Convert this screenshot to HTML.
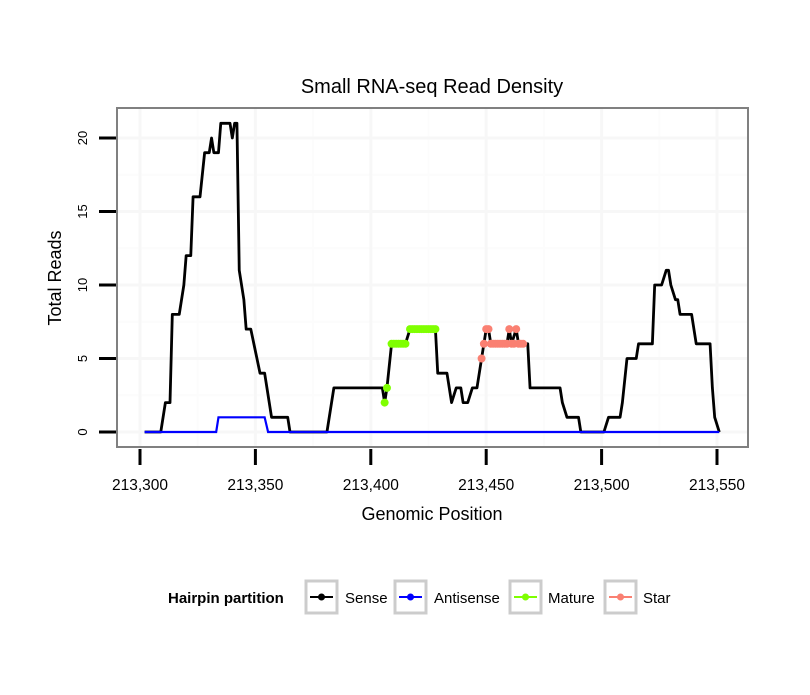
<!DOCTYPE html>
<html><head><meta charset="utf-8"><style>
body{margin:0;background:#fff;}
text{font-family:"Liberation Sans",sans-serif;}
</style></head><body>
<svg id="chart" width="810" height="690" xmlns="http://www.w3.org/2000/svg">
<rect width="810" height="690" fill="#fff"/>
<text x="432" y="93" font-size="20" text-anchor="middle">Small RNA-seq Read Density</text>
<g id="grid"></g>
<g id="series"></g>
<rect x="117" y="108" width="631" height="339" fill="none" stroke="#808080" stroke-width="2"/>
<g id="axes"></g>
<text x="432" y="520" font-size="18" text-anchor="middle">Genomic Position</text>
<text transform="translate(61,278) rotate(-90)" font-size="18" text-anchor="middle">Total Reads</text>
<g>
<text x="168" y="603" font-size="15" font-weight="bold">Hairpin partition</text>
<g><rect x="306" y="581" width="31" height="32" fill="none" stroke="#ccc" stroke-width="3"/><line x1="310" x2="333" y1="597" y2="597" stroke="#000" stroke-width="2"/><circle cx="321.5" cy="597" r="3.5" fill="#000"/><text x="345" y="603" font-size="15">Sense</text></g>
<g><rect x="395" y="581" width="31" height="32" fill="none" stroke="#ccc" stroke-width="3"/><line x1="399" x2="422" y1="597" y2="597" stroke="#0000ff" stroke-width="2"/><circle cx="410.5" cy="597" r="3.5" fill="#0000ff"/><text x="434" y="603" font-size="15">Antisense</text></g>
<g><rect x="510" y="581" width="31" height="32" fill="none" stroke="#ccc" stroke-width="3"/><line x1="514" x2="537" y1="597" y2="597" stroke="#7fff00" stroke-width="2"/><circle cx="525.5" cy="597" r="3.5" fill="#7fff00"/><text x="548" y="603" font-size="15">Mature</text></g>
<g><rect x="605" y="581" width="31" height="32" fill="none" stroke="#ccc" stroke-width="3"/><line x1="609" x2="632" y1="597" y2="597" stroke="#fa8072" stroke-width="2"/><circle cx="620.5" cy="597" r="3.5" fill="#fa8072"/><text x="643" y="603" font-size="15">Star</text></g>
</g>
</svg>
<script>
const xTicks=[213300,213350,213400,213450,213500,213550];
const xTickLabels=["213,300","213,350","213,400","213,450","213,500","213,550"];
const yTicks=[0,5,10,15,20];
const senseX=[213302,213309,213311,213313,213314,213317,213319,213320,213322,213323,213326,213328,213330,213331,213332,213334,213335,213339,213340,213341,213342,213343,213345,213346,213348,213352,213354,213355,213357,213364,213365,213381,213384,213405,213406,213407,213409,213415,213417,213428,213429,213433,213435,213437,213439,213440,213442,213444,213446,213448,213449,213450,213451,213452,213459,213460,213461,213463,213464,213468,213469,213482,213483,213485,213490,213491,213501,213503,213508,213509,213511,213515,213516,213522,213523,213526,213528,213529,213530,213532,213533,213534,213539,213541,213547,213548,213549,213551];
const senseY=[0,0,2,2,8,8,10,12,12,16,16,19,19,20,19,19,21,21,20,21,21,11,9,7,7,4,4,3,1,1,0,0,3,3,2,3,6,6,7,7,4,4,2,3,3,2,2,3,3,5,6,7,7,6,6,7,6,7,6,6,3,3,2,1,1,0,0,1,1,2,5,5,6,6,10,10,11,11,10,9,9,8,8,6,6,3,1,0];
const antiX=[213302,213333,213334,213354,213355.5,213551];
const antiY=[0,0,1,1,0,0];
const matureX=[213406,213407,213409,213410,213411,213412,213413,213414,213415,213417,213418,213419,213420,213421,213422,213423,213424,213425,213426,213427,213428];
const matureY=[2,3,6,6,6,6,6,6,6,7,7,7,7,7,7,7,7,7,7,7,7];
const starX=[213448,213449,213450,213451,213452,213453,213454,213455,213456,213457,213458,213459,213460,213461,213462,213463,213464,213465,213466];
const starY=[5,6,7,7,6,6,6,6,6,6,6,6,7,6,6,7,6,6,6];
const NS="http://www.w3.org/2000/svg";
const sx=v=>140+(v-213300)*(577/250);
const sy=v=>432-v*14.7;
const grid=document.getElementById('grid'),ser=document.getElementById('series'),axes=document.getElementById('axes');
function mk(t,a,p){const e=document.createElementNS(NS,t);for(const k in a)e.setAttribute(k,a[k]);p.appendChild(e);return e;}
[213325,213375,213425,213475,213525].forEach(v=>{mk('line',{x1:sx(v),x2:sx(v),y1:109,y2:446,stroke:'#fcfcfc','stroke-width':2},grid);});
[2.5,7.5,12.5,17.5].forEach(v=>{mk('line',{x1:118,x2:747,y1:sy(v),y2:sy(v),stroke:'#fcfcfc','stroke-width':2},grid);});
xTicks.forEach((v,i)=>{const l=mk('line',{x1:sx(v),x2:sx(v),y1:109,y2:446,stroke:'#f7f7f7','stroke-width':3},grid);


const t=mk('line',{x1:sx(v),x2:sx(v),y1:449,y2:465,stroke:'#000','stroke-width':3},axes);


const tx=mk('text',{x:sx(v),y:490,'font-size':15.5,'text-anchor':'middle'},axes);tx.textContent=xTickLabels[i];

});
yTicks.forEach(v=>{const l=mk('line',{x1:118,x2:747,y1:sy(v),y2:sy(v),stroke:'#f7f7f7','stroke-width':3},grid);


const t=mk('line',{x1:99,x2:116,y1:sy(v),y2:sy(v),stroke:'#000','stroke-width':3},axes);


const tx=mk('text',{transform:`translate(87,${sy(v)}) rotate(-90)`,'font-size':13,'text-anchor':'middle'},axes);tx.textContent=String(v);

});
const pts=(X,Y)=>X.map((x,i)=>sx(x)+','+sy(Y[i])).join(' ');
const sense=mk('polyline',{points:pts(senseX,senseY),fill:'none',stroke:'#000','stroke-width':2.8,'stroke-linejoin':'round'},ser);


const anti=mk('polyline',{points:pts(antiX,antiY),fill:'none',stroke:'#0000ff','stroke-width':2.2},ser);


matureX.forEach((x,i)=>{const c=mk('circle',{cx:sx(x),cy:sy(matureY[i]),r:4,fill:'#7fff00'},ser);

});
starX.forEach((x,i)=>{const c=mk('circle',{cx:sx(x),cy:sy(starY[i]),r:4,fill:'#fa8072'},ser);

});
</script>
</body></html>
